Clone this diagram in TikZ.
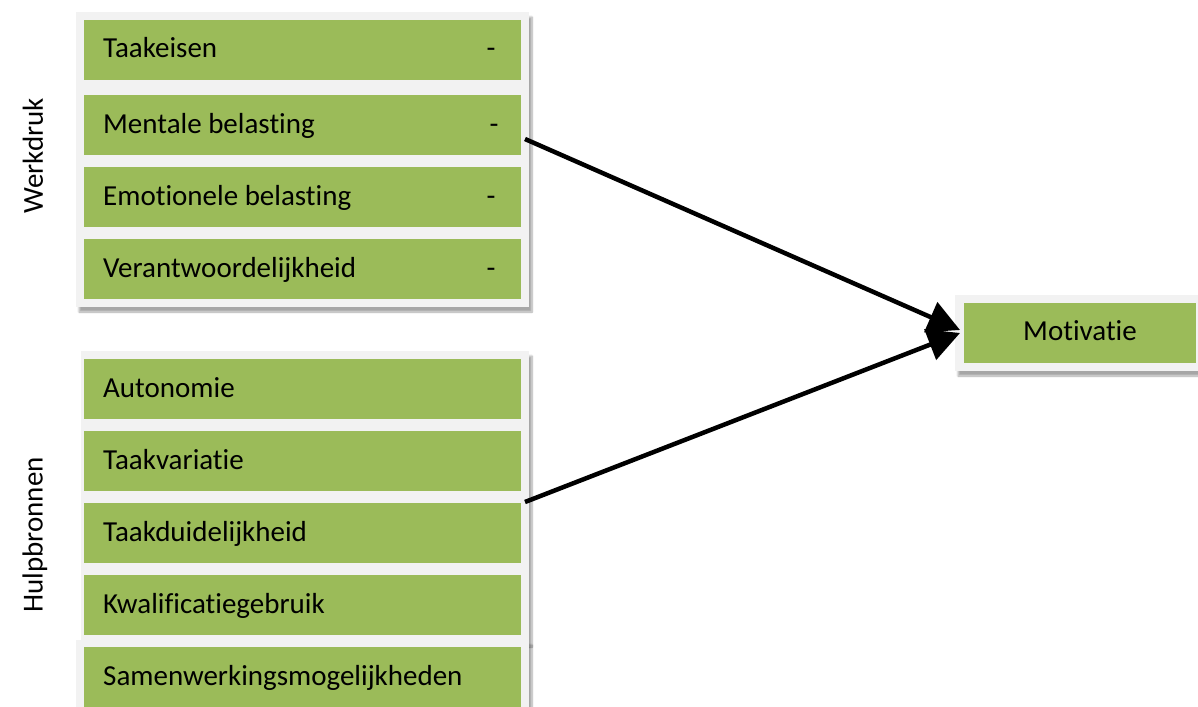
\documentclass[tikz,border=0pt]{standalone}
\usepackage{fontspec}
\setmainfont{Carlito}[Ligatures=NoCommon]
\usetikzlibrary{calc,arrows.meta,shadows.blur}
\definecolor{itemgreen}{HTML}{9BBB59}
\definecolor{panelgrey}{HTML}{F2F2F2}
\begin{document}
\begin{tikzpicture}[x=1pt,y=-1pt,
  panel/.style={fill=panelgrey, draw=none,
    blur shadow={shadow xshift=3pt, shadow yshift=-5pt, shadow blur steps=8, shadow opacity=35}},
  itembox/.style={fill=itemgreen, draw=none, minimum width=437pt, minimum height=60pt,
    inner sep=0pt, outer sep=0pt},
  txt/.style={font=\fontsize{29}{34}\selectfont, inner sep=0pt},
  itemlabel/.style={txt, anchor=base west},
  sign/.style={txt, anchor=base},
  grouplabel/.style={txt, rotate=90},
  link/.style={line width=4.5pt, draw=black,
    -{Triangle[length=32pt,width=32pt,fill=black]}}
]
\useasboundingbox (0,0) rectangle (1198,706);

% grey backing panels
\path[panel] (76,12) rectangle (529,307);
\path[panel] (81,351) rectangle (529,642);
\path[panel] (76,640) rectangle (529,720);
\path[panel] (955,295) rectangle (1210,371);

% Werkdruk items
\node[itembox] (taakeisen) at (302.5,50) {};
\node[itembox] (mentale)   at (302.5,125) {};
\node[itembox] (emotionele) at (302.5,197) {};
\node[itembox] (verantw)   at (302.5,269) {};

\node[itemlabel] (t1) at (103,58)  {Taakeisen};
\node[itemlabel] (t2) at (103,133) {Mentale belasting};
\node[itemlabel] (t3) at (103,205) {Emotionele belasting};
\node[itemlabel] (t4) at (103,277) {Verantwoordelijkheid};
\node[sign] (m1) at (491,58)  {-};
\node[sign] (m2) at (494,133) {-};
\node[sign] (m3) at (491,205) {-};
\node[sign] (m4) at (491,277) {-};

% Hulpbronnen items
\node[itembox] (autonomie) at (302.5,389) {};
\node[itembox] (variatie)  at (302.5,461) {};
\node[itembox] (duidelijk) at (302.5,533) {};
\node[itembox] (kwalif)    at (302.5,605) {};
\node[itembox] (samenw)    at (302.5,677) {};

\node[itemlabel] (h1) at (103,397) {Autonomie};
\node[itemlabel] (h2) at (103,469) {Taakvariatie};
\node[itemlabel] (h3) at (103,541) {Taakduidelijkheid};
\node[itemlabel] (h4) at (103,613) {Kwalificatiegebruik};
\node[itemlabel] (h5) at (103,685) {Samenwerkingsmogelijkheden};

% group labels
\node[grouplabel] (werkdruk) at (33,156) {Werkdruk};
\node[grouplabel] (hulp) at (35,535) {Hulpbronnen};

% outcome
\node[itembox, minimum width=232pt] (motivatie) at (1080,333) {};
\node[txt] (motlabel) at (1080,331) {Motivatie};

% connectors
\coordinate (from1) at ($(mentale.east)+(4,14)$);
\coordinate (from2) at ($(duidelijk.north east)+(4,-1)$);
\draw[link] (from1) -- ($(motivatie.west)+(-4,-3)$);
\draw[link] (from2) -- ($(motivatie.west)+(-4,0)$);
\end{tikzpicture}
\end{document}
